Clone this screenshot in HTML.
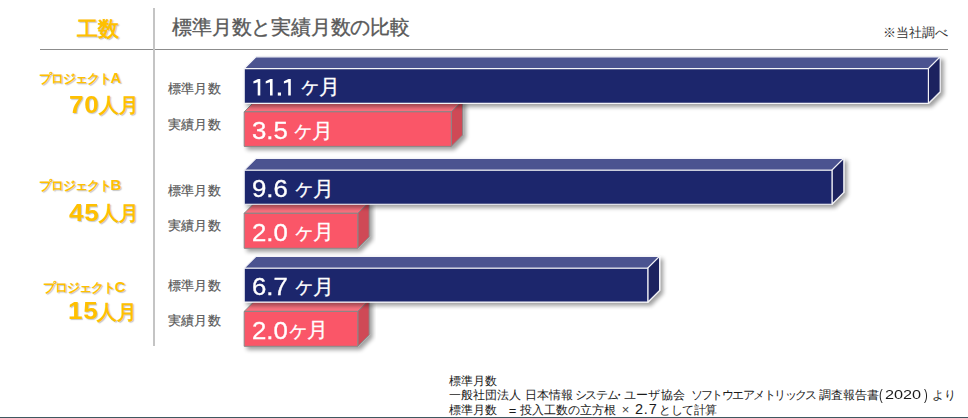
<!DOCTYPE html>
<html><head><meta charset="utf-8"><style>
html,body{margin:0;padding:0;background:#fff;width:968px;height:418px;overflow:hidden;position:relative;font-family:"Liberation Sans",sans-serif}
.a{position:absolute}
.t{position:absolute;white-space:nowrap;line-height:0;height:0}
.y{color:#FFC000;font-weight:bold;text-shadow:1px 1px 1px rgba(90,90,90,0.35)}
.g{color:#595959}
.k{color:#333}
.w{color:#fff;-webkit-text-stroke:0.3px #fff}
.f{color:#1a1a1a}
svg{position:absolute;left:0;top:0}
</style></head><body>
<div class="a" style="left:40px;top:49px;width:908px;height:1px;background:#8C8C8C"></div>
<div class="a" style="left:153px;top:8px;width:2px;height:338px;background:#C4C4C4"></div>
<div class="t y" style="left:77.00px;top:28.72px;font-size:21px;">工数</div>
<div class="t g" style="left:172.30px;top:27.07px;font-size:20px;-webkit-text-stroke:0.35px #595959;letter-spacing:-0.2px">標準月数と実績月数の比較</div>
<div class="t k" style="left:883.00px;top:32.50px;font-size:13px;">※当社調べ</div>
<div class="t y" style="left:39.00px;top:78.30px;font-size:13px;letter-spacing:-1.1px">プロジェクト<span style="font-size:15px;letter-spacing:0">A</span></div>
<div class="t y" style="left:68.60px;top:104.89px;font-size:23.7px;letter-spacing:0.7px;transform:scaleX(1.1);transform-origin:0 0">70</div>
<div class="t y" style="left:99.20px;top:105.31px;font-size:19.6px;">人月</div>
<div class="t y" style="left:39.00px;top:185.30px;font-size:13px;letter-spacing:-1.1px">プロジェクト<span style="font-size:15px;letter-spacing:0">B</span></div>
<div class="t y" style="left:68.80px;top:212.89px;font-size:23.7px;letter-spacing:0.7px;transform:scaleX(1.1);transform-origin:0 0">45</div>
<div class="t y" style="left:99.20px;top:213.31px;font-size:19.6px;">人月</div>
<div class="t y" style="left:43.30px;top:287.10px;font-size:13px;letter-spacing:-1.1px">プロジェクト<span style="font-size:15px;letter-spacing:0">C</span></div>
<div class="t y" style="left:68.30px;top:311.09px;font-size:23.7px;letter-spacing:0.7px;transform:scaleX(1.1);transform-origin:0 0">15</div>
<div class="t y" style="left:96.70px;top:311.51px;font-size:19.6px;">人月</div>
<div class="t g" style="left:168.00px;top:89.06px;font-size:13.4px;letter-spacing:0.2px;-webkit-text-stroke:0.2px #595959">標準月数</div>
<div class="t g" style="left:168.00px;top:124.66px;font-size:13.4px;letter-spacing:0.2px;-webkit-text-stroke:0.2px #595959">実績月数</div>
<div class="t g" style="left:168.00px;top:190.96px;font-size:13.4px;letter-spacing:0.2px;-webkit-text-stroke:0.2px #595959">標準月数</div>
<div class="t g" style="left:168.00px;top:225.56px;font-size:13.4px;letter-spacing:0.2px;-webkit-text-stroke:0.2px #595959">実績月数</div>
<div class="t g" style="left:168.00px;top:285.96px;font-size:13.4px;letter-spacing:0.2px;-webkit-text-stroke:0.2px #595959">標準月数</div>
<div class="t g" style="left:168.00px;top:320.56px;font-size:13.4px;letter-spacing:0.2px;-webkit-text-stroke:0.2px #595959">実績月数</div>

<svg width="968" height="418" viewBox="0 0 968 418">
<defs><filter id="sh" x="-5%" y="-30%" width="110%" height="160%"><feGaussianBlur in="SourceAlpha" stdDeviation="1.9"/><feOffset dx="2.6" dy="2.6" result="b"/><feComponentTransfer><feFuncA type="linear" slope="0.38"/></feComponentTransfer><feMerge><feMergeNode/><feMergeNode in="SourceGraphic"/></feMerge></filter></defs>
<g filter="url(#sh)"><polygon points="244.2,111.8 255.6,100.39999999999999 462.7,100.39999999999999 451.3,111.8" fill="#F9707E" stroke="#888888" stroke-width="1.0" stroke-linejoin="round"/><polygon points="451.3,111.8 462.7,100.39999999999999 462.7,135.0 451.3,146.4" fill="#CF4957" stroke="#888888" stroke-width="1.0" stroke-linejoin="round"/><polygon points="244.2,111.8 451.3,111.8 451.3,146.4 244.2,146.4" fill="#FA5667" stroke="#888888" stroke-width="1.0" stroke-linejoin="round"/></g><g filter="url(#sh)"><polygon points="244.2,68.6 256.0,56.8 940.1999999999999,56.8 928.4,68.6" fill="#4B5290" stroke="#F4F4F8" stroke-width="1.15" stroke-linejoin="round"/><polygon points="928.4,68.6 940.1999999999999,56.8 940.1999999999999,91.60000000000001 928.4,103.4" fill="#1A225E" stroke="#F4F4F8" stroke-width="1.15" stroke-linejoin="round"/><polygon points="244.2,68.6 928.4,68.6 928.4,103.4 244.2,103.4" fill="#1F286C" stroke="#F4F4F8" stroke-width="1.15" stroke-linejoin="round"/></g><g filter="url(#sh)"><polygon points="244.2,213.3 255.6,201.9 369.2,201.9 357.8,213.3" fill="#F9707E" stroke="#888888" stroke-width="1.0" stroke-linejoin="round"/><polygon points="357.8,213.3 369.2,201.9 369.2,236.9 357.8,248.3" fill="#CF4957" stroke="#888888" stroke-width="1.0" stroke-linejoin="round"/><polygon points="244.2,213.3 357.8,213.3 357.8,248.3 244.2,248.3" fill="#FA5667" stroke="#888888" stroke-width="1.0" stroke-linejoin="round"/></g><g filter="url(#sh)"><polygon points="244.2,170.2 256.0,158.39999999999998 843.8,158.39999999999998 832,170.2" fill="#4B5290" stroke="#F4F4F8" stroke-width="1.15" stroke-linejoin="round"/><polygon points="832,170.2 843.8,158.39999999999998 843.8,192.39999999999998 832,204.2" fill="#1A225E" stroke="#F4F4F8" stroke-width="1.15" stroke-linejoin="round"/><polygon points="244.2,170.2 832,170.2 832,204.2 244.2,204.2" fill="#1F286C" stroke="#F4F4F8" stroke-width="1.15" stroke-linejoin="round"/></g><g filter="url(#sh)"><polygon points="244.2,311.4 255.6,300.0 369.2,300.0 357.8,311.4" fill="#F9707E" stroke="#888888" stroke-width="1.0" stroke-linejoin="round"/><polygon points="357.8,311.4 369.2,300.0 369.2,334.90000000000003 357.8,346.3" fill="#CF4957" stroke="#888888" stroke-width="1.0" stroke-linejoin="round"/><polygon points="244.2,311.4 357.8,311.4 357.8,346.3 244.2,346.3" fill="#FA5667" stroke="#888888" stroke-width="1.0" stroke-linejoin="round"/></g><g filter="url(#sh)"><polygon points="244.2,268.2 256.0,256.4 659.5999999999999,256.4 647.8,268.2" fill="#4B5290" stroke="#F4F4F8" stroke-width="1.15" stroke-linejoin="round"/><polygon points="647.8,268.2 659.5999999999999,256.4 659.5999999999999,290.3 647.8,302.1" fill="#1A225E" stroke="#F4F4F8" stroke-width="1.15" stroke-linejoin="round"/><polygon points="244.2,268.2 647.8,268.2 647.8,302.1 244.2,302.1" fill="#1F286C" stroke="#F4F4F8" stroke-width="1.15" stroke-linejoin="round"/></g>
</svg>
<svg width="968" height="418" style="position:absolute;left:0;top:0"><polygon points="253.39999999999998,81.2 258.0,78.9 260.29999999999995,78.9 260.29999999999995,95.6 257.7,95.6 257.7,82.2 253.39999999999998,83.60000000000001" fill="#fff"/><polygon points="265.7,81.2 270.3,78.9 272.59999999999997,78.9 272.59999999999997,95.6 270.0,95.6 270.0,82.2 265.7,83.60000000000001" fill="#fff"/><polygon points="283.9,81.2 288.5,78.9 290.79999999999995,78.9 290.79999999999995,95.6 288.2,95.6 288.2,82.2 283.9,83.60000000000001" fill="#fff"/><rect x="277.8" y="92.5" width="3.2" height="3.1" fill="#fff"/></svg><div class="t w" style="left:299.20px;top:86.48px;font-size:22px;">ヶ</div>
<div class="t w" style="left:319.30px;top:86.82px;font-size:21px;">月</div>
<div class="t w" style="left:252.00px;top:131.33px;font-size:23px;transform:scaleX(1.12);transform-origin:0 0">3.5</div>
<div class="t w" style="left:292.30px;top:130.48px;font-size:22px;">ヶ</div>
<div class="t w" style="left:312.40px;top:130.82px;font-size:21px;">月</div>
<div class="t w" style="left:252.00px;top:189.03px;font-size:23px;transform:scaleX(1.12);transform-origin:0 0">9.6</div>
<div class="t w" style="left:292.80px;top:188.18px;font-size:22px;">ヶ</div>
<div class="t w" style="left:312.90px;top:188.52px;font-size:21px;">月</div>
<div class="t w" style="left:252.00px;top:232.83px;font-size:23px;transform:scaleX(1.12);transform-origin:0 0">2.0</div>
<div class="t w" style="left:293.10px;top:231.98px;font-size:22px;">ヶ</div>
<div class="t w" style="left:313.20px;top:232.32px;font-size:21px;">月</div>
<div class="t w" style="left:252.00px;top:287.33px;font-size:23px;transform:scaleX(1.12);transform-origin:0 0">6.7</div>
<div class="t w" style="left:292.80px;top:286.48px;font-size:22px;">ヶ</div>
<div class="t w" style="left:312.90px;top:286.82px;font-size:21px;">月</div>
<div class="t w" style="left:252.00px;top:330.83px;font-size:23px;transform:scaleX(1.12);transform-origin:0 0">2.0</div>
<div class="t w" style="left:286.90px;top:329.98px;font-size:22px;">ヶ</div>
<div class="t w" style="left:307.00px;top:330.32px;font-size:21px;">月</div>

<div class="t f" style="left:449.00px;top:380.84px;font-size:12px;">標準月数</div>
<div class="t f" style="left:449.00px;top:395.34px;font-size:12px;">一般社団法人</div>
<div class="t f" style="left:525.00px;top:395.34px;font-size:12px;">日本情報</div>
<div class="t f" style="left:574.50px;top:395.34px;font-size:12px;letter-spacing:-1.3px">システム</div>
<div class="t f" style="left:612.50px;top:395.34px;font-size:12px;letter-spacing:-2px">・</div>
<div class="t f" style="left:624.00px;top:395.34px;font-size:12px;letter-spacing:-0.2px">ユーザ</div>
<div class="t f" style="left:661.00px;top:395.34px;font-size:12px;">協会</div>
<div class="t f" style="left:690.50px;top:395.34px;font-size:12px;letter-spacing:-1.55px">ソフトウエアメトリックス</div>
<div class="t f" style="left:818.50px;top:395.34px;font-size:12px;">調査報告書</div>
<div class="t f" style="left:878.80px;top:394.95px;font-size:14px;font-weight:normal;transform:scaleX(0.8);transform-origin:0 0">(</div>
<div class="t f" style="left:885.30px;top:395.00px;font-size:13px;transform:scaleX(1.25);transform-origin:0 0">2020</div>
<div class="t f" style="left:923.80px;top:394.95px;font-size:14px;transform:scaleX(0.8);transform-origin:0 0">)</div>
<div class="t f" style="left:931.50px;top:395.34px;font-size:12px;">より</div>
<div class="t f" style="left:449.00px;top:410.34px;font-size:12px;">標準月数</div>
<div class="t f" style="left:508.80px;top:410.50px;font-size:13px;">=</div>
<div class="t f" style="left:519.70px;top:410.34px;font-size:12px;">投入工数の立方根</div>
<div class="t f" style="left:621.80px;top:410.00px;font-size:13px;color:#444">×</div>
<div class="t f" style="left:635.00px;top:408.98px;font-size:14.5px;letter-spacing:0.8px">2.7</div>
<div class="t f" style="left:659.30px;top:410.34px;font-size:12px;letter-spacing:-0.5px">として計算</div>

<div class="a" style="left:0;top:417px;width:968px;height:1px;background:#3E5860"></div>
</body></html>
